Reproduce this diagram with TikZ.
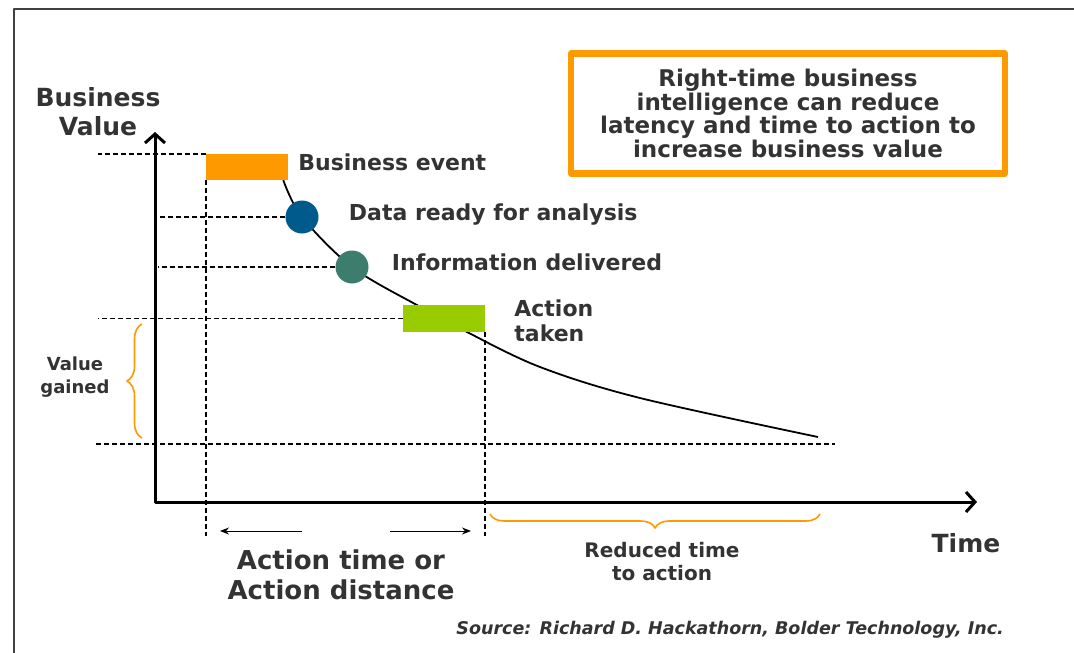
\documentclass[tikz,border=0pt]{standalone}
\usepackage{fontspec}
\setmainfont{DejaVu Sans}
\usepackage{tikz}
\usetikzlibrary{arrows.meta,positioning,decorations.pathreplacing,backgrounds}

\definecolor{bvorange}{RGB}{255,153,0}
\definecolor{bvblue}{RGB}{0,90,140}
\definecolor{bvteal}{RGB}{60,125,110}
\definecolor{bvgreen}{RGB}{153,204,0}
\definecolor{bvtext}{RGB}{51,51,51}

\tikzset{
  milestone/.style={rectangle,fill=bvorange,minimum width=82pt,minimum height=26pt,inner sep=0pt},
  stage/.style={circle,minimum size=33pt,inner sep=0pt},
  lbl/.style={text=bvtext,font=\bfseries\fontsize{22}{25}\selectfont,inner sep=0pt,
    text height=0.73em,text depth=0pt},
  txt/.style={text=bvtext,inner sep=0pt,align=center},
  guide/.style={line width=1.5pt,dash pattern=on 5pt off 3pt},
  curly/.style={bvorange,line width=1.6pt,decorate,decoration={brace,amplitude=15pt}},
  span/.style={line width=1pt,-{Stealth[length=9pt,width=7pt]}}
}

\begin{document}
\begin{tikzpicture}[x=1pt,y=-1pt,line join=round]
  \useasboundingbox (0,0) rectangle (1074,653);

  % frame
  \draw[line width=2.5pt,black!75] (14,653) -- (14,9) -- (1074,9);

  % axes
  \coordinate (origin) at (155,502);
  \coordinate (ytop) at (155,132);
  \coordinate (xend) at (977,502);
  \draw[line width=3pt,{Straight Barb[length=9pt,width=20pt]}-{Straight Barb[length=9pt,width=20pt]}]
    (ytop) -- (origin) -- (xend);

  \node[txt,font=\bfseries\fontsize{25}{29}\selectfont] (bvlbl) at (98,112) {Business\\Value};
  \node[txt,font=\bfseries\fontsize{25}{29}\selectfont] (timelbl) at (966,543) {Time};

  % milestones
  \node[milestone] (event) at (247,167) {};
  \node[stage,fill=bvblue] (ready) at (302,217) {};
  \node[stage,fill=bvteal] (info) at (352,267) {};
  \node[milestone,fill=bvgreen,minimum height=27pt] (action) at (444,318.5) {};

  \node[lbl,right=10pt of event] (eventlbl) {Business event};
  \node[lbl,right=30pt of ready] (readylbl) {Data ready for analysis};
  \node[lbl,right=23pt of info] (infolbl) {Information delivered};
  \node[txt,align=left,font=\bfseries\fontsize{22}{25}\selectfont,right=29pt of action,yshift=-2pt]
    (actionlbl) {Action\\taken};

  % value curve
  \coordinate (bend1) at (415,304);
  \coordinate (bend2) at (467,332);
  \coordinate (bend3) at (540,367);
  \coordinate (bend4) at (640,398);
  \coordinate (tail) at (818,437);
  \begin{scope}[on background layer]
    \draw[line width=1.8pt] plot[smooth,tension=0.55] coordinates
      {(event.-20) (ready) (info) (bend1) (action) (bend2) (bend3) (bend4) (tail)};
  \end{scope}

  % guides
  \coordinate (vleft) at (98,0);
  \coordinate (low) at (0,536);
  \coordinate (floorl) at (96,444);
  \coordinate (floorr) at (835,444);
  \draw[guide] (event.north west) -- (event.north west -| vleft);
  \draw[guide] (ready.west) -- (ready.west -| origin);
  \draw[guide] (info.west) -- ([xshift=3pt]info.west -| origin);
  \draw[guide] (action.west) -- (action.west -| vleft);
  \draw[guide] (floorl) -- (floorr);
  \draw[guide] (event.south west) -- (event.south west |- low);
  \draw[guide] (action.south east) -- (action.south east |- low);

  % value gained
  \draw[curly] (142,438) -- (142,324);
  \node[txt,font=\bfseries\fontsize{18}{23}\selectfont] (gainlbl) at (75,377) {Value\\gained};

  % action distance
  \coordinate (spanl) at (220,531);
  \coordinate (spanlin) at (302,531);
  \coordinate (spanr) at (471,531);
  \coordinate (spanrin) at (390,531);
  \draw[span] (spanlin) -- (spanl);
  \draw[span] (spanrin) -- (spanr);
  \node[txt,font=\bfseries\fontsize{26}{30}\selectfont] (distlbl) at (341,575)
    {Action time or\\Action distance};

  % reduced time
  \draw[curly,decoration={amplitude=14pt}] (820,514) -- (490,514);
  \node[txt,font=\bfseries\fontsize{20}{23}\selectfont] (reducedlbl) at (662,562)
    {Reduced time\\to action};

  % note
  \node[txt,draw=bvorange,line width=6.5pt,minimum width=434pt,minimum height=120pt,
    font=\bfseries\fontsize{23}{23.5}\selectfont] (note) at (788,113.5)
    {Right-time business\\intelligence can reduce\\latency and time to action to\\increase business value};

  \node[txt,anchor=east,font=\bfseries\itshape\fontsize{17.5}{20}\selectfont] (source) at (1004,630)
    {Source: Richard D. Hackathorn, Bolder Technology, Inc.};
\end{tikzpicture}
\end{document}
